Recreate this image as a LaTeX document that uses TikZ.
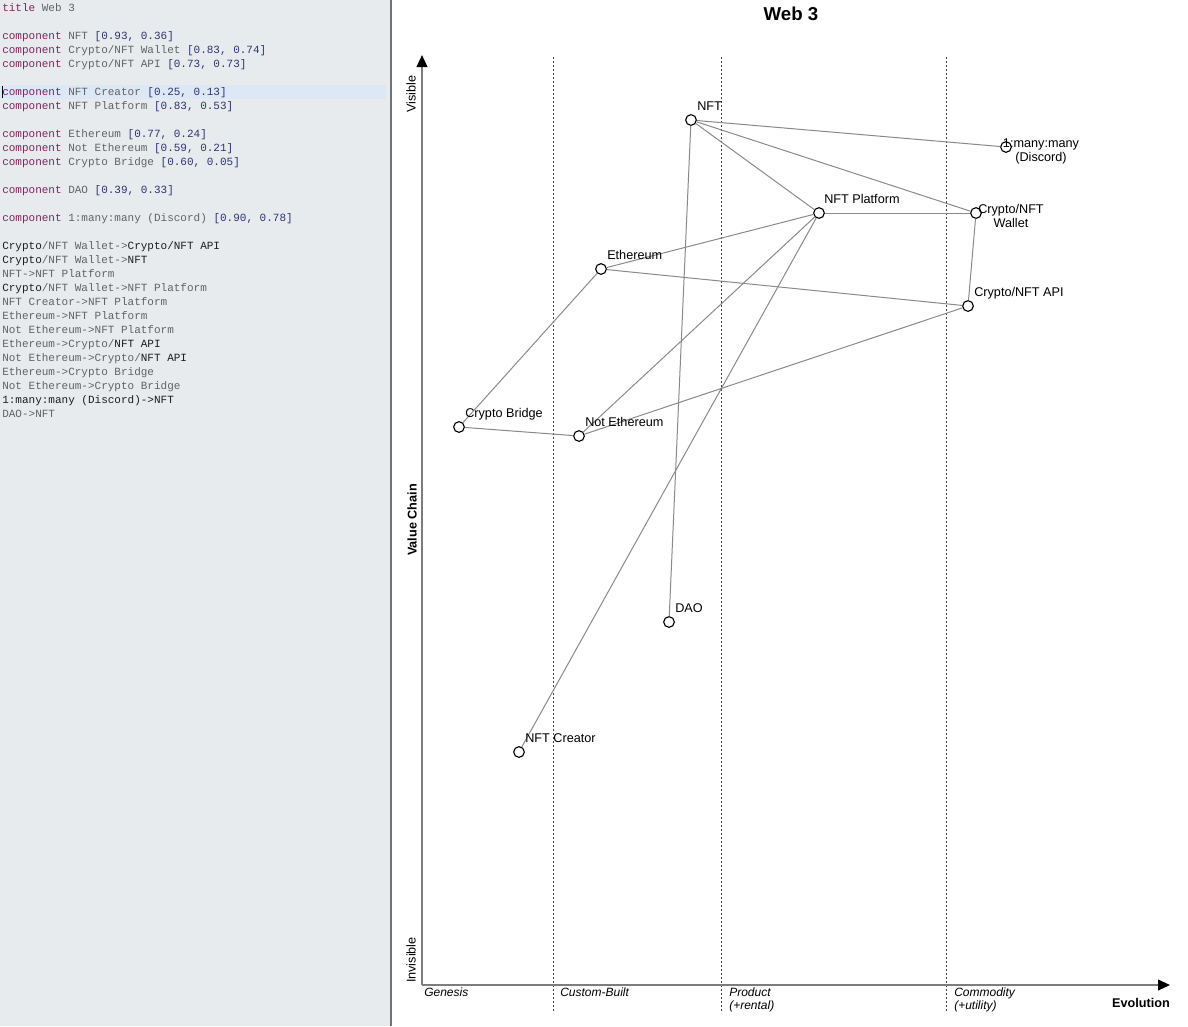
\documentclass[tikz,border=0pt]{standalone}
\usepackage{fontspec}
\setmainfont{Liberation Sans}
\setmonofont{Liberation Mono}
\usepackage{tikz}
\usetikzlibrary{arrows.meta}
\usetikzlibrary{calc}

\definecolor{panelgrey}{RGB}{232,235,238}
\definecolor{hlblue}{RGB}{221,232,246}
\definecolor{kwcol}{RGB}{122,38,92}
\definecolor{namecol}{RGB}{98,98,98}
\definecolor{numcol}{RGB}{46,52,112}
\definecolor{darkcol}{RGB}{28,28,28}
\definecolor{linkgrey}{RGB}{138,138,138}
\definecolor{axisgrey}{RGB}{125,125,125}

\newcommand{\kw}[1]{\textcolor{kwcol}{#1}}
\newcommand{\nm}[1]{\textcolor{namecol}{#1}}
\newcommand{\nv}[1]{\textcolor{numcol}{#1}}
\newcommand{\dk}[1]{\textcolor{darkcol}{#1}}

\begin{document}
\begin{tikzpicture}[x=0.75pt, y=-0.75pt,
	comp/.style={circle, draw=black, fill=white, line width=0.85pt, minimum size=8pt, inner sep=0pt},
	lbl/.style={font=\fontsize{9.5}{10.5}\selectfont, inner sep=0pt},
	link/.style={color=linkgrey, line width=0.75pt},
	stage/.style={draw=black!75, line width=0.75pt, dash pattern=on 1.5pt off 1.5pt},
	axis/.style={draw=axisgrey, line width=1.5pt, -{Triangle[length=9pt, width=8pt, color=black]}},
	axlbl/.style={font=\fontsize{9.5}{11}\selectfont, inner sep=0pt, rotate=90},
	stagelbl/.style={font=\itshape\fontsize{9}{9.75}\selectfont, inner sep=0pt, align=left, anchor=north west}]
	\useasboundingbox (0,0) rectangle (1188,1026);
	\fill[white] (0,0) rectangle (1188,1026);
	\fill[panelgrey] (0,0) rectangle (391,1026);
	\fill[hlblue] (0,85) rectangle (386,99);
	\draw[line width=0.5pt] (2.5,86) -- (2.5,98);
	\draw[draw=black!55, line width=1.1pt] (391,0) -- (391,1026);
	\node[anchor=north west, inner sep=0pt, align=left, font=\ttfamily\fontsize{8.25}{10.5}\selectfont] (code) at (2,3.5)
	{
		\kw{title} \nm{Web 3}\\
		\mbox{}\\
		\kw{component} \nm{NFT} \nv{[0.93, 0.36]}\\
		\kw{component} \nm{Crypto/NFT Wallet} \nv{[0.83, 0.74]}\\
		\kw{component} \nm{Crypto/NFT API} \nv{[0.73, 0.73]}\\
		\mbox{}\\
		\kw{component} \nm{NFT Creator} \nv{[0.25, 0.13]}\\
		\kw{component} \nm{NFT Platform} \nv{[0.83, 0.53]}\\
		\mbox{}\\
		\kw{component} \nm{Ethereum} \nv{[0.77, 0.24]}\\
		\kw{component} \nm{Not Ethereum} \nv{[0.59, 0.21]}\\
		\kw{component} \nm{Crypto Bridge} \nv{[0.60, 0.05]}\\
		\mbox{}\\
		\kw{component} \nm{DAO} \nv{[0.39, 0.33]}\\
		\mbox{}\\
		\kw{component} \nm{1:many:many (Discord)} \nv{[0.90, 0.78]}\\
		\mbox{}\\
		\dk{Crypto}\nm{/NFT Wallet->}\dk{Crypto/NFT API}\\
		\dk{Crypto}\nm{/NFT Wallet->}\dk{NFT}\\
		\nm{NFT->NFT Platform}\\
		\dk{Crypto}\nm{/NFT Wallet->NFT Platform}\\
		\nm{NFT Creator->NFT Platform}\\
		\nm{Ethereum->NFT Platform}\\
		\nm{Not Ethereum->NFT Platform}\\
		\nm{Ethereum->Crypto/}\dk{NFT API}\\
		\nm{Not Ethereum->Crypto/}\dk{NFT API}\\
		\nm{Ethereum->Crypto Bridge}\\
		\nm{Not Ethereum->Crypto Bridge}\\
		\dk{1:many:many (Discord)->NFT}\\
		\nm{DAO->NFT}
	};
	\node[font=\bfseries\fontsize{14}{16}\selectfont] (title) at (791,14) {Web 3};
	\foreach \sx in {553,721,946}
		\draw[stage] (\sx,57) -- (\sx,1012);
	\coordinate (origin) at (422,985);
	\coordinate (ytip) at (422,55);
	\coordinate (xtip) at (1170,985);
	\draw[axis] (origin) -- (ytip);
	\draw[axis] (origin) -- (xtip);
	\node[axlbl] (visible) at (411,94) {Visible};
	\node[axlbl, font=\bfseries\fontsize{9.5}{11}\selectfont] (valueChain) at (412,520) {Value Chain};
	\node[axlbl] (invisible) at (411,960) {Invisible};
	\node[stagelbl] (genesis) at (424,988) {Genesis};
	\node[stagelbl] (custom) at (560,988) {Custom-Built};
	\node[stagelbl] (product) at (729,988) {Product\\(+rental)};
	\node[stagelbl] (commodity) at (954,988) {Commodity\\(+utility)};
	\node[font=\bfseries\fontsize{9.5}{11}\selectfont] (evolution) at (1141,1003) {Evolution};
	\node[comp] (nft) at (691,120) {};
	\node[comp] (discord) at (1006,147) {};
	\node[comp] (platform) at (819,213) {};
	\node[comp] (wallet) at (976,213) {};
	\node[comp] (ethereum) at (601,269) {};
	\node[comp] (api) at (968,306) {};
	\node[comp] (bridge) at (459,427) {};
	\node[comp] (notEth) at (579,436) {};
	\node[comp] (dao) at (669,622) {};
	\node[comp] (creator) at (519,752) {};
	\path[link]
		(wallet) edge (api)
		edge (nft)
		edge (platform)
		(nft) edge (platform)
		(creator) edge (platform)
		(ethereum) edge (platform)
		edge (api)
		edge (bridge)
		(notEth) edge (platform)
		edge (api)
		edge (bridge)
		(discord) edge (nft)
		(dao) edge (nft)
		;
	\node[lbl, anchor=base west] (nftL) at ($(nft)+(6,-10)$) {NFT};
	\node[lbl, align=center, anchor=north] (discordL) at ($(discord)+(35,-8)$) {1:many:many\\(Discord)};
	\node[lbl, anchor=base west] (platformL) at ($(platform)+(5,-10)$) {NFT Platform};
	\node[lbl, align=center, anchor=north] (walletL) at ($(wallet)+(35,-9)$) {Crypto/NFT\\Wallet};
	\node[lbl, anchor=base west] (ethereumL) at ($(ethereum)+(6,-10)$) {Ethereum};
	\node[lbl, anchor=base west] (apiL) at ($(api)+(6,-10)$) {Crypto/NFT API};
	\node[lbl, anchor=base west] (bridgeL) at ($(bridge)+(6,-10)$) {Crypto Bridge};
	\node[lbl, anchor=base west] (notEthL) at ($(notEth)+(6,-10)$) {Not Ethereum};
	\node[lbl, anchor=base west] (daoL) at ($(dao)+(6,-10)$) {DAO};
	\node[lbl, anchor=base west] (creatorL) at ($(creator)+(6,-10)$) {NFT Creator};
\end{tikzpicture}
\end{document}
